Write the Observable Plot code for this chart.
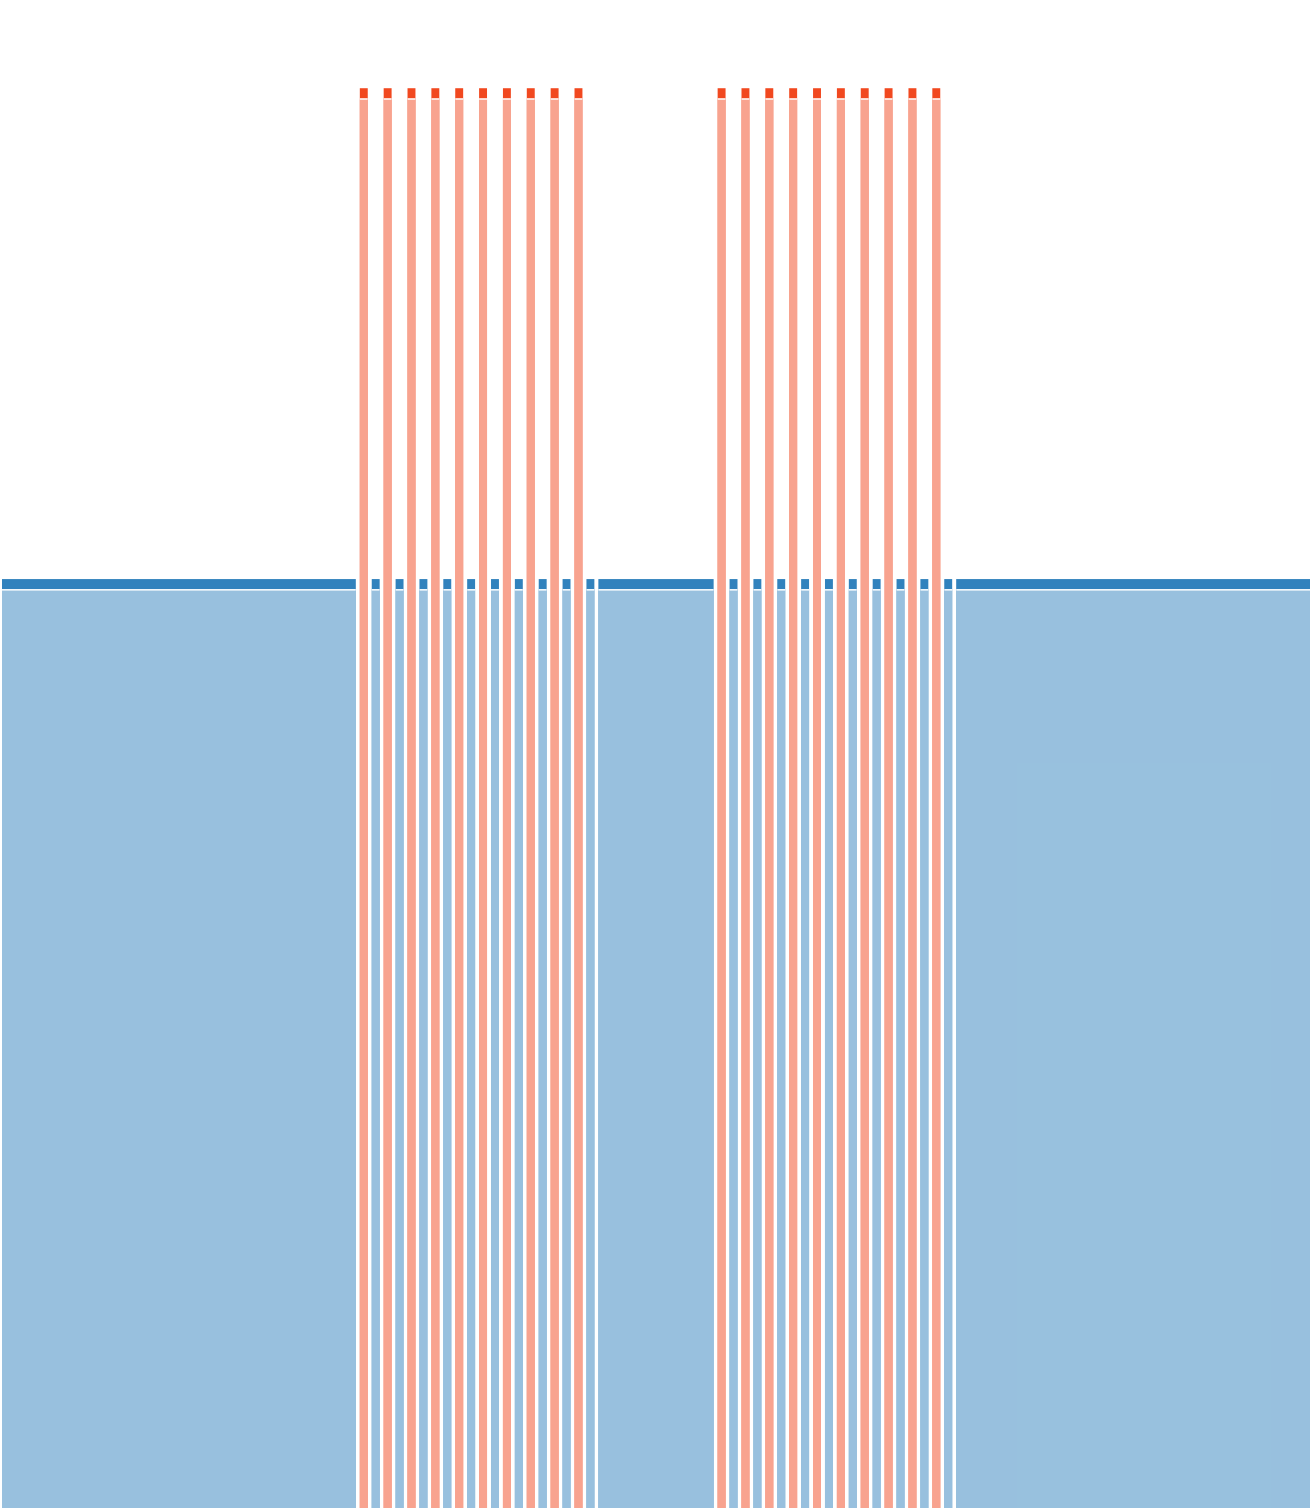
<!DOCTYPE html>
<html>
<head>
<meta charset="utf-8">
<script src="https://cdn.jsdelivr.net/npm/d3@7"></script>
<script src="https://cdn.jsdelivr.net/npm/@observablehq/plot@0.6"></script>
<style>
  html, body { margin: 0; padding: 0; background: #fff; overflow: hidden; }
</style>
</head>
<body>
<div id="chart"></div>
<script>
// Segments along the x axis (in cell units), their kind and their value
const segStart = [0,
  30, 31, 32, 33, 34, 35, 36, 37, 38, 39, 40, 41, 42, 43, 44, 45, 46, 47, 48, 49,
  50,
  60, 61, 62, 63, 64, 65, 66, 67, 68, 69, 70, 71, 72, 73, 74, 75, 76, 77, 78, 79,
  80];
const segEnd = [30,
  31, 32, 33, 34, 35, 36, 37, 38, 39, 40, 41, 42, 43, 44, 45, 46, 47, 48, 49, 50,
  60,
  61, 62, 63, 64, 65, 66, 67, 68, 69, 70, 71, 72, 73, 74, 75, 76, 77, 78, 79, 80,
  110];
const segKind = ["below",
  "above","below","above","below","above","below","above","below","above","below",
  "above","below","above","below","above","below","above","below","above","below",
  "below",
  "above","below","above","below","above","below","above","below","above","below",
  "above","below","above","below","above","below","above","below","above","below",
  "below"];
const segValue = [61.6,
  94.15, 61.6, 94.15, 61.6, 94.15, 61.6, 94.15, 61.6, 94.15, 61.6,
  94.15, 61.6, 94.15, 61.6, 94.15, 61.6, 94.15, 61.6, 94.15, 61.6,
  61.6,
  94.15, 61.6, 94.15, 61.6, 94.15, 61.6, 94.15, 61.6, 94.15, 61.6,
  94.15, 61.6, 94.15, 61.6, 94.15, 61.6, 94.15, 61.6, 94.15, 61.6,
  61.6];
const kindDomain = ["below", "above"];
const kindColors = ["#3182bd", "#f1481f"];
const xDomain = [0, 110];
const yDomain = [0, 100];

const data = segStart.map((s, i) => ({
  start: s, end: segEnd[i], kind: segKind[i], value: segValue[i]
}));

const common = {x1: "start", x2: "end", y1: 0, y2: "value", insetLeft: 2, insetRight: 2};

const chart = Plot.plot({
  width: 1312,
  height: 1508,
  margin: 0,
  x: {domain: xDomain, axis: null},
  y: {domain: yDomain, axis: null},
  color: {domain: kindDomain, range: kindColors},
  marks: [
    Plot.rect(data, {...common, fill: "kind"}),
    Plot.rect(data, {...common, fill: "white", insetTop: 10}),
    Plot.rect(data, {...common, fill: "kind", fillOpacity: 0.5, insetTop: 11.5})
  ]
});
document.getElementById("chart").appendChild(chart);
</script>
</body>
</html>
